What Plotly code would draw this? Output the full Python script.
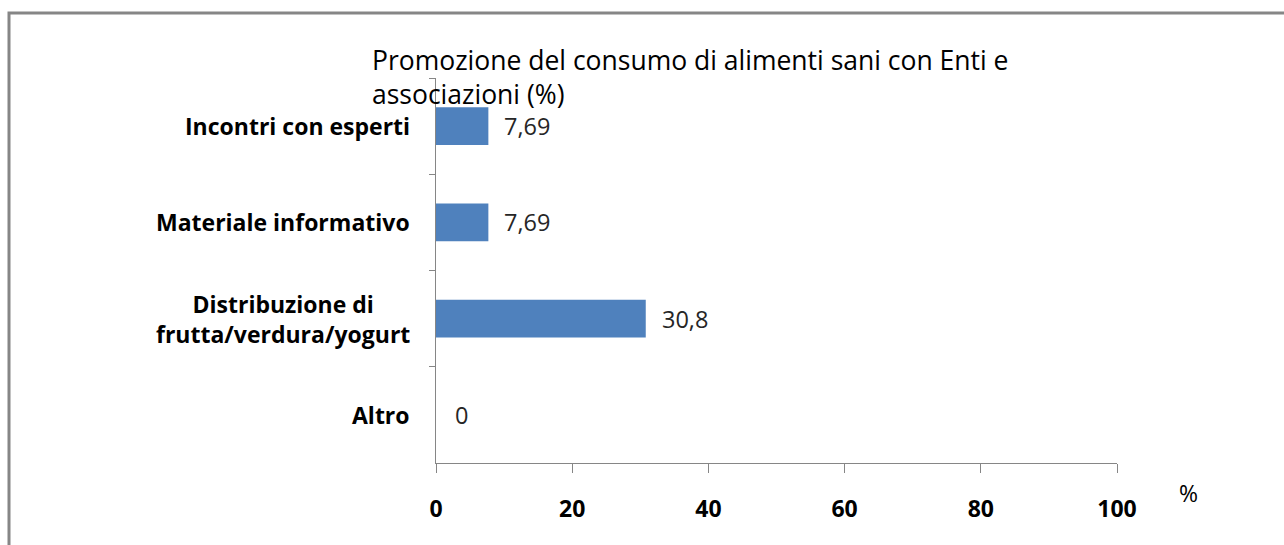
import plotly.graph_objects as go

categories = ["Incontri con esperti", "Materiale informativo",
              "Distribuzione di<br>frutta/verdura/yogurt", "Altro"]
values = [7.69, 7.69, 30.8, 0]
value_labels = ["7,69", "7,69", "30,8", "0"]
x_ticks = [0, 20, 40, 60, 80, 100]
title_text = "Promozione del consumo di alimenti sani con Enti e<br>associazioni (%)"

W, H = 1284, 545
L, R, T, B = 436, 167, 78, 82
pw, ph = W - L - R, H - T - B

axis_col = "#868686"
font_fam = "'Open Sans', Lato, sans-serif"

fig = go.Figure()
fig.add_trace(go.Bar(
    y=categories, x=values, orientation="h",
    marker=dict(color="#4F81BD", line=dict(width=0)),
    width=0.39, hoverinfo="skip",
))

annotations = []
for c, v, t in zip(categories, values, value_labels):
    annotations.append(dict(
        x=v, y=c, xref="x", yref="y", text=t, showarrow=False,
        xanchor="left", yanchor="middle", xshift=14 if v > 0 else 17,
        font=dict(family=font_fam, size=23.5, color="#262626"),
    ))
    annotations.append(dict(
        x=0, y=c, xref="paper", yref="y", text="<b>" + c + "</b>", showarrow=False,
        xanchor="right", yanchor="middle", align="center", xshift=-24,
        font=dict(family=font_fam, size=23, color="#000000"),
    ))
annotations.append(dict(
    x=(1188 - L) / pw, y=(H - B - 493) / ph, xref="paper", yref="paper",
    text="%", showarrow=False, xanchor="center", yanchor="middle",
    font=dict(family=font_fam, size=23, color="#000000"),
))

frame = dict(type="rect", xref="paper", yref="paper",
             x0=(9 - L) / pw, x1=(W + 20 - L) / pw,
             y0=(H - B - (H + 20)) / ph, y1=(H - B - 13) / ph,
             line=dict(color=axis_col, width=3), fillcolor="rgba(0,0,0,0)", layer="below")

fig.update_layout(
    width=W, height=H,
    margin=dict(l=L, r=R, t=T, b=B),
    paper_bgcolor="white", plot_bgcolor="white",
    showlegend=False,
    title=dict(text=title_text, x=372 / W, xanchor="left", xref="container",
               y=1 - 70 / H, yanchor="top", yref="container",
               font=dict(family=font_fam, size=26.5, color="#000000")),
    annotations=annotations,
    shapes=[frame],
)
fig.update_xaxes(
    range=[0, 100], tickvals=x_ticks, ticktext=["<b>%d</b>" % v for v in x_ticks],
    showgrid=False, zeroline=False,
    showline=True, linecolor=axis_col, linewidth=1,
    ticks="outside", ticklen=9, tickcolor=axis_col, tickwidth=1,
    ticklabelstandoff=16,
    tickfont=dict(family=font_fam, size=23, color="#000000"),
    fixedrange=True,
)
fig.update_yaxes(
    categoryorder="array", categoryarray=categories, autorange="reversed",
    showgrid=False, zeroline=False, showticklabels=False,
    showline=True, linecolor=axis_col, linewidth=1,
    ticks="outside", ticklen=6, tickcolor=axis_col, tickwidth=1,
    tickson="boundaries",
    fixedrange=True,
)

fig.write_html(
    "out.html",
    config={"displayModeBar": False},
    post_script="document.body.style.margin='0';document.body.style.overflow='hidden';",
)
